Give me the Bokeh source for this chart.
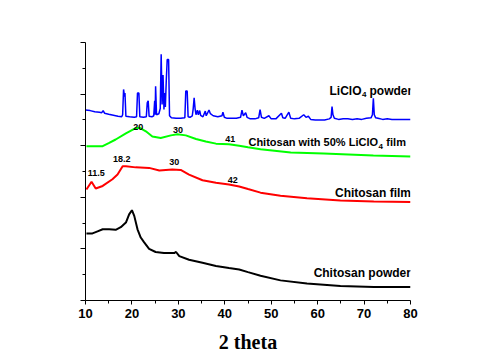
from bokeh.plotting import figure
from bokeh.models import FixedTicker, ColumnDataSource, Label
from bokeh.embed import file_html
from bokeh.resources import INLINE
from bokeh.core.properties import value

# ---- data ----
liclo4_x = [10.0, 11.0, 12.0, 13.0, 13.5, 13.8, 14.1, 15.0, 16.0, 17.0, 17.8, 18.0, 18.2, 18.4, 18.5, 18.7,
            19.5, 20.5, 21.0, 21.2, 21.5, 21.7, 22.5, 23.1, 23.3, 23.5, 23.7, 24.3, 24.7, 24.9, 25.0, 25.1,
            25.3, 25.8, 26.1, 26.3, 26.5, 26.7, 26.9, 27.0, 27.2, 27.4, 27.6, 27.9, 28.1, 28.5, 29.5, 30.5,
            31.4, 31.6, 31.9, 32.1, 32.5, 33.0, 33.2, 33.4, 33.6, 33.8, 34.1, 34.3, 34.6, 34.8, 35.3, 35.8,
            36.0, 36.6, 36.9, 37.5, 38.5, 39.4, 39.6, 39.9, 40.5, 41.5, 42.5, 43.4, 43.7, 44.0, 44.5, 44.8,
            45.5, 46.5, 47.3, 47.6, 47.9, 48.5, 49.5, 50.0, 51.0, 52.2, 52.5, 53.0, 53.8, 54.2, 55.0, 56.0,
            57.0, 57.5, 58.0, 58.5, 59.5, 60.5, 61.5, 62.5, 62.9, 63.1, 63.3, 63.6, 64.5, 65.5, 66.5, 67.5,
            68.5, 69.5, 70.5, 71.5, 71.8, 72.0, 72.2, 72.5, 73.0, 74.0, 75.0, 76.0, 77.0, 78.0, 79.0, 80.0]
liclo4_y = [3.69, 3.68, 3.66, 3.65, 3.64, 3.68, 3.63, 3.61, 3.59, 3.57, 3.56, 3.60, 4.09, 3.95, 4.02, 3.57,
            3.56, 3.55, 3.56, 4.02, 4.02, 3.56, 3.55, 3.56, 3.83, 3.87, 3.57, 3.56, 3.58, 3.87, 3.60, 4.15,
            3.60, 3.62, 3.72, 4.77, 3.80, 4.37, 3.70, 4.02, 3.75, 4.27, 4.67, 4.67, 3.58, 3.54, 3.53, 3.53,
            3.54, 4.06, 4.06, 3.56, 3.55, 3.58, 3.72, 3.93, 3.72, 3.60, 3.69, 3.60, 3.68, 3.59, 3.56, 3.67,
            3.58, 3.69, 3.62, 3.58, 3.56, 3.58, 3.65, 3.55, 3.53, 3.53, 3.53, 3.55, 3.69, 3.58, 3.64, 3.55,
            3.52, 3.52, 3.54, 3.70, 3.55, 3.53, 3.58, 3.52, 3.52, 3.63, 3.54, 3.53, 3.65, 3.53, 3.52, 3.53,
            3.60, 3.55, 3.57, 3.51, 3.50, 3.50, 3.50, 3.52, 3.55, 3.76, 3.60, 3.53, 3.51, 3.52, 3.52, 3.51,
            3.52, 3.51, 3.53, 3.54, 3.60, 3.92, 3.60, 3.54, 3.53, 3.51, 3.52, 3.51, 3.51, 3.51, 3.51, 3.51]

blend_x = [10.2, 12.0, 13.7, 15.0, 16.5, 18.7, 20.8, 21.6, 23.0, 24.4, 26.2, 28.4, 29.8, 31.6, 33.8,
           35.9, 38.1, 40.9, 43.1, 45.0, 47.7, 54.2, 61.3, 72.0, 80.0]
blend_y = [2.99, 2.99, 2.99, 3.05, 3.12, 3.24, 3.34, 3.35, 3.28, 3.18, 3.15, 3.20, 3.22, 3.20, 3.13,
           3.08, 3.04, 3.03, 3.00, 2.97, 2.93, 2.87, 2.85, 2.81, 2.79]

film_x = [10.2, 11.3, 12.2, 13.7, 15.8, 16.9, 18.0, 18.7, 20.8, 23.7, 25.9, 28.7, 30.5, 32.3, 35.2,
          38.1, 40.9, 43.1, 45.0, 47.7, 52.0, 57.7, 64.9, 72.1, 80.0]
film_y = [2.15, 2.30, 2.17, 2.22, 2.35, 2.44, 2.60, 2.60, 2.58, 2.57, 2.52, 2.54, 2.53, 2.44, 2.33,
          2.28, 2.25, 2.21, 2.16, 2.09, 2.03, 1.98, 1.94, 1.92, 1.91]

powder_x = [10.2, 11.5, 12.6, 13.7, 15.1, 16.5, 17.6, 18.7, 19.4, 20.0, 20.5, 21.2, 21.9, 22.6, 23.7,
            25.1, 26.9, 29.1, 29.5, 30.2, 32.3, 35.2, 38.1, 40.9, 43.1, 45.0, 47.7, 52.0, 57.7, 64.9,
            72.1, 80.0]
powder_y = [1.30, 1.30, 1.34, 1.38, 1.38, 1.37, 1.42, 1.51, 1.67, 1.75, 1.64, 1.38, 1.22, 1.13, 1.00,
            0.94, 0.92, 0.92, 0.94, 0.86, 0.79, 0.73, 0.67, 0.63, 0.60, 0.55, 0.48, 0.39, 0.33, 0.28,
            0.26, 0.26]

x_ticks = [10, 20, 30, 40, 50, 60, 70, 80]
x_minor = [15, 25, 35, 45, 55, 65, 75]
y_ticks = [0, 1, 2, 3, 4, 5]
y_minor = [0.5, 1.5, 2.5, 3.5, 4.5]

peak_text = ["20", "30", "41", "18.2", "30", "11.5", "42"]
peak_x = [21.35, 29.9, 41.2, 17.8, 29.1, 12.3, 41.7]
peak_y = [3.36, 3.31, 3.13, 2.74, 2.69, 2.475, 2.33]

# ---- figure ----
p = figure(width=470, height=355, x_range=(10, 80), y_range=(0, 5),
           output_backend="svg", toolbar_location=None,
           min_border_left=85, min_border_right=60, min_border_top=42, min_border_bottom=53)
p.outline_line_color = None
p.xgrid.visible = False
p.ygrid.visible = False
p.background_fill_color = "white"

p.line(liclo4_x, liclo4_y, color="#0000FF", line_width=1.5)
p.line(blend_x, blend_y, color="#00FF00", line_width=2)
p.line(film_x, film_y, color="#FF0000", line_width=2)
p.line(powder_x, powder_y, color="black", line_width=2)

# axes
p.xaxis.ticker = FixedTicker(ticks=x_ticks, minor_ticks=x_minor)
p.xaxis.axis_label = "2 theta"
p.xaxis.axis_label_text_font = "Liberation Serif"
p.xaxis.axis_label_text_font_style = "bold"
p.xaxis.axis_label_text_font_size = "20px"
p.xaxis.axis_label_text_color = "black"
p.xaxis.axis_label_standoff = 10
p.xaxis.major_label_text_font = "Liberation Sans"
p.xaxis.major_label_text_font_style = "bold"
p.xaxis.major_label_text_font_size = "13px"
p.xaxis.major_label_text_color = "black"
p.xaxis.major_label_standoff = 4
p.xaxis.major_tick_out = 4
p.xaxis.major_tick_in = 0
p.xaxis.minor_tick_out = 3
p.xaxis.minor_tick_in = 0
for ax in (p.xaxis, p.yaxis):
    ax.axis_line_color = "black"
    ax.major_tick_line_color = "black"
    ax.minor_tick_line_color = "black"

p.yaxis.ticker = FixedTicker(ticks=y_ticks, minor_ticks=y_minor)
p.yaxis.major_label_overrides = {t: "" for t in y_ticks}
p.yaxis.major_label_text_font_size = "1px"
p.yaxis.major_tick_out = 5
p.yaxis.major_tick_in = 0
p.yaxis.minor_tick_out = 3
p.yaxis.minor_tick_in = 0

# peak labels
src = ColumnDataSource(dict(x=peak_x, y=peak_y, t=peak_text))
p.text(x="x", y="y", text="t", source=src, text_font=value("Liberation Sans"),
       text_font_style="bold", text_font_size="9px", text_align="center",
       text_baseline="alphabetic", text_color="black")

# series labels (with subscript 4)
def txt(x, y, s, size="12px", align="left"):
    p.add_layout(Label(x=x, y=y, text=s, text_font="Liberation Sans", text_font_style="bold",
                       text_font_size=size, text_align=align, text_baseline="alphabetic",
                       text_color="black"))

txt(69.45, 4.063, "LiClO", align="right")
txt(69.55, 4.0, "4", size="8px")
txt(71.17, 4.063, "powder")
txt(73.0, 3.063, "Chitosan with 50% LiClO", size="11px", align="right")
txt(73.1, 2.99, "4", size="8px")
txt(74.8, 3.063, "film", size="11px")
txt(80.1, 2.09, "Chitosan film", align="right")
txt(80.1, 0.533, "Chitosan powder", align="right")

open("out.html", "w").write(file_html(p, INLINE))
